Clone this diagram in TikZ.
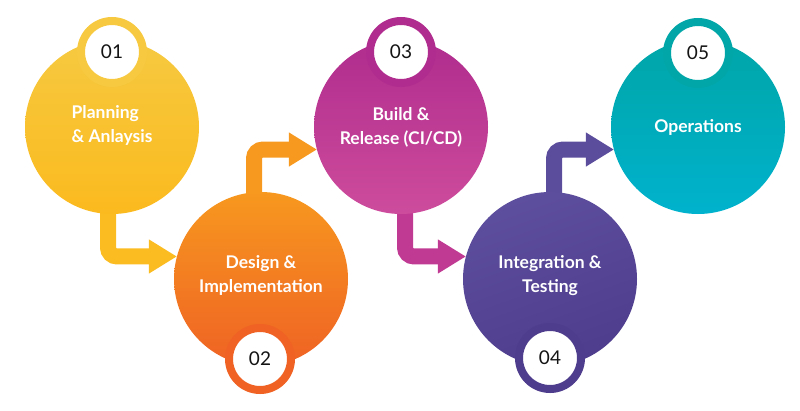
\documentclass[tikz,border=0pt]{standalone}
\usepackage{fontspec}
\setmainfont{Lato}
\usetikzlibrary{arrows.meta,backgrounds}
\definecolor{yT}{RGB}{246,201,64}
\definecolor{yB}{RGB}{251,186,30}
\definecolor{oT}{RGB}{247,152,31}
\definecolor{oB}{RGB}{239,98,36}
\definecolor{mT}{RGB}{176,44,142}
\definecolor{mB}{RGB}{206,76,156}
\definecolor{pT}{RGB}{94,78,158}
\definecolor{pB}{RGB}{78,60,140}
\definecolor{tT}{RGB}{0,166,168}
\definecolor{tB}{RGB}{0,178,205}
\definecolor{aY}{RGB}{251,188,34}
\definecolor{aO}{RGB}{247,152,31}
\definecolor{aM}{RGB}{192,58,148}
\definecolor{aP}{RGB}{92,76,156}
\begin{document}
\begin{tikzpicture}[x=1pt,y=-1pt,
  phase/.style={circle, minimum size=174pt, inner sep=0pt, outer sep=0pt},
  phasetext/.style={inner sep=0pt, text=white,
    font=\bfseries\fontsize{17.5}{24}\selectfont, align=center},
  badge/.style={circle, minimum size=62pt, inner sep=0pt, outer sep=0pt,
    line width=8pt, fill=white, text=black!92,
    font=\fontsize{19}{19}\selectfont},
  conn/.style={line width=16pt, rounded corners=9pt,
    -{Triangle[length=28pt,width=32pt]}}
]
\useasboundingbox (0,0) rectangle (800,410);

\node[phase, top color=yT, bottom color=yB] (c1) at (112,127) {};
\node[phase, top color=oT, bottom color=oB] (c2) at (261,279) {};
\node[phase, top color=mT, bottom color=mB] (c3) at (401,127) {};
\node[phase, top color=pT, bottom color=pB, shading angle=20] (c4) at (550,279) {};
\node[phase, top color=tT, bottom color=tB] (c5) at (698,127) {};

\node[phasetext, align=left] (t1) at ([yshift=2pt]c1.center) {Planning\\\& Anlaysis};
\node[phasetext] (t2) at ([yshift=4pt]c2.center) {Design \&\\Implementation};
\node[phasetext] (t3) at (c3.center) {Build \&\\Release (CI/CD)};
\node[phasetext] (t4) at ([yshift=3.5pt]c4.center) {Integration \&\\Testing};
\node[phasetext] (t5) at (c5.center) {Operations};

\node[badge, draw=yT] (b1) at (112,52) {01};
\node[badge, draw=oB] (b2) at (260,359) {02};
\node[badge, draw=mT] (b3) at (401,52) {03};
\node[badge, draw=pB] (b4) at (550,358) {04};
\node[badge, draw=tT] (b5) at (698,53) {05};

\begin{scope}[on background layer]
\draw[conn, aY] ([xshift=-4pt]c1.center) |- (c2.165);
\draw[conn, aO] ([xshift=-7pt]c2.center) |- (c3.195);
\draw[conn, aM] ([xshift=4pt]c3.center) |- (c4.165);
\draw[conn, aP] ([xshift=4pt]c4.center) |- (c5.195);
\end{scope}
\end{tikzpicture}
\end{document}
